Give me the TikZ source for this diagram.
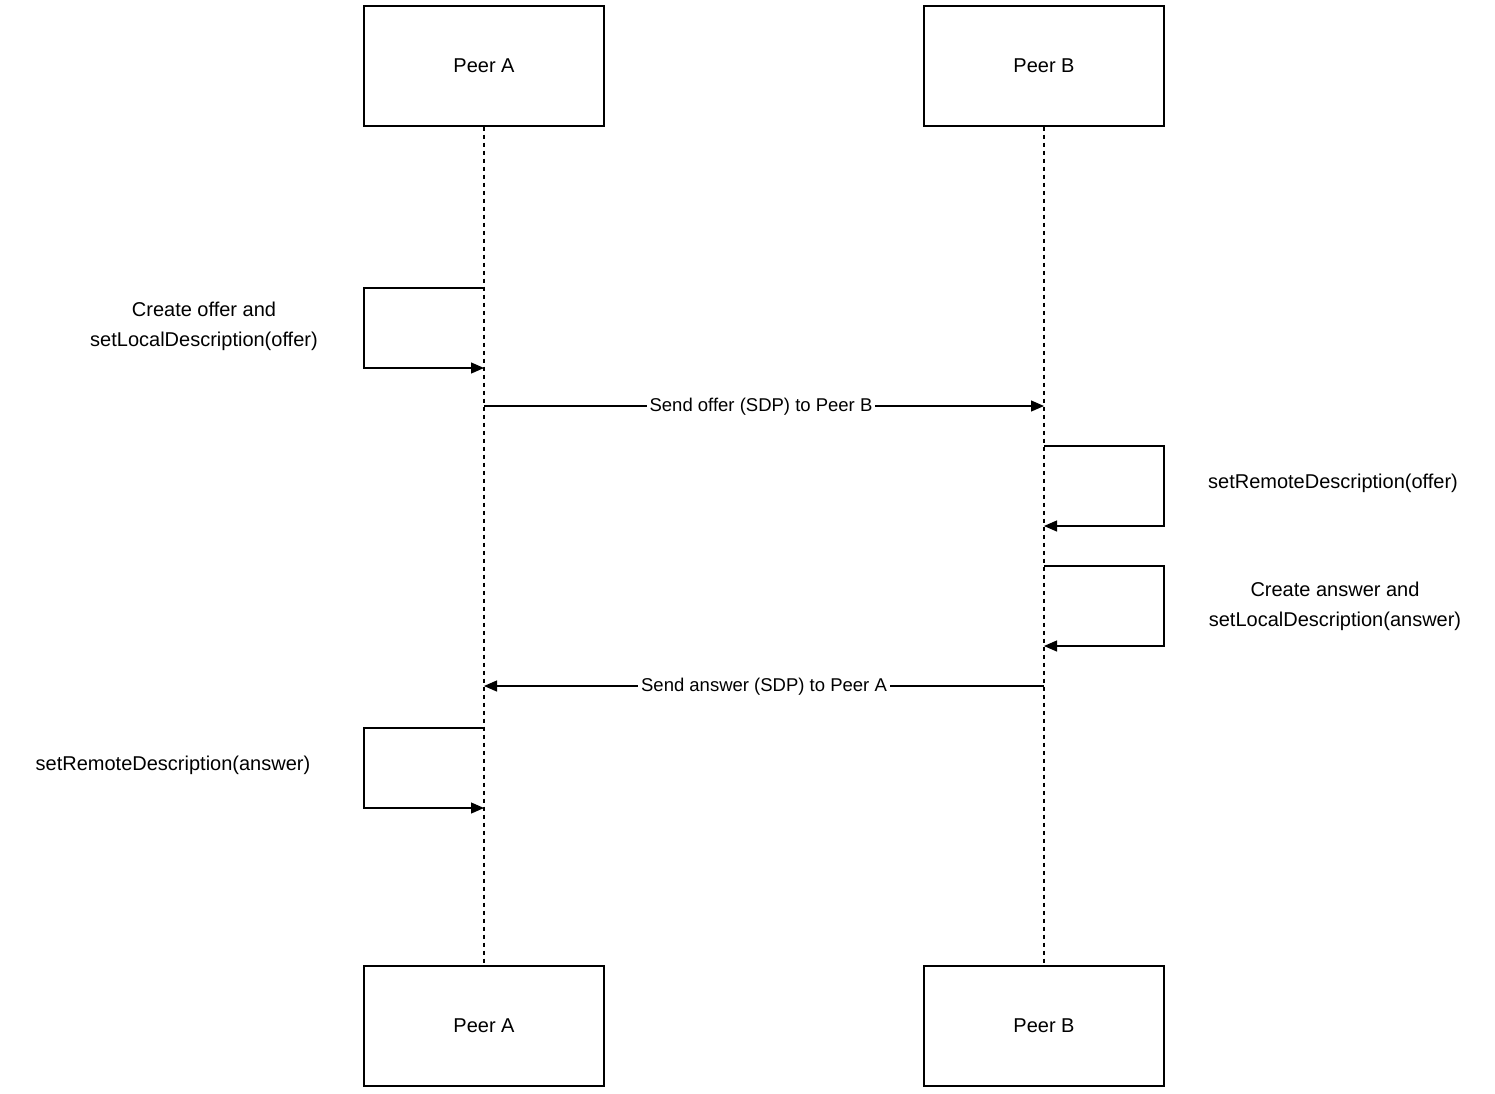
\documentclass[tikz,border=0pt]{standalone}
\usepackage{fontspec}
\setmainfont{Liberation Sans}
\usetikzlibrary{arrows.meta}
\begin{document}
\begin{tikzpicture}[x=1pt,y=-1pt,
  peer/.style={draw,line width=1.3pt,minimum width=240pt,minimum height=120pt,font=\fontsize{20}{24}\selectfont},
  life/.style={dashed,line width=1.2pt,dash pattern=on 4pt off 4pt},
  msg/.style={line width=1.2pt,-{Triangle[length=13pt,width=11pt]}},
  lbl/.style={font=\fontsize{20}{30}\selectfont,align=center},
  mlbl/.style={font=\fontsize{18.5}{22}\selectfont,fill=white,inner sep=3pt}]
\useasboundingbox (0,0) rectangle (1495,1093);
\node[peer] (at) at (484,66) {Peer A};
\node[peer] (bt) at (1044,66) {Peer B};
\node[peer] (ab) at (484,1026) {Peer A};
\node[peer] (bb) at (1044,1026) {Peer B};
\draw[life] (at.south) -- (ab.north);
\draw[life] (bt.south) -- (bb.north);
% A loop 1
\coordinate (a1s) at (484,288); \coordinate (a1e) at (484,368);
\draw[msg] (a1s) -- (364,288) -- (364,368) -- (a1e);
\node[lbl] (l1) at (204,326) {Create offer and\\setLocalDescription(offer)};
% message 1
\coordinate (m1s) at (484,406); \coordinate (m1e) at (1044,406);
\draw[msg] (m1s) -- (m1e);
\node[mlbl] (l2) at (761,407) {Send offer (SDP) to Peer B};
% B loop 1
\coordinate (b1s) at (1044,446); \coordinate (b1e) at (1044,526);
\draw[msg] (b1s) -- (1164,446) -- (1164,526) -- (b1e);
\node[lbl] (l3) at (1333,483) {setRemoteDescription(offer)};
% B loop 2
\coordinate (b2s) at (1044,566); \coordinate (b2e) at (1044,646);
\draw[msg] (b2s) -- (1164,566) -- (1164,646) -- (b2e);
\node[lbl] (l4) at (1335,606) {Create answer and\\setLocalDescription(answer)};
% message 2
\coordinate (m2s) at (1044,686); \coordinate (m2e) at (484,686);
\draw[msg] (m2s) -- (m2e);
\node[mlbl] (l5) at (764,687) {Send answer (SDP) to Peer A};
% A loop 2
\coordinate (a2s) at (484,728); \coordinate (a2e) at (484,808);
\draw[msg] (a2s) -- (364,728) -- (364,808) -- (a2e);
\node[lbl] (l6) at (173,765) {setRemoteDescription(answer)};
\end{tikzpicture}
\end{document}
